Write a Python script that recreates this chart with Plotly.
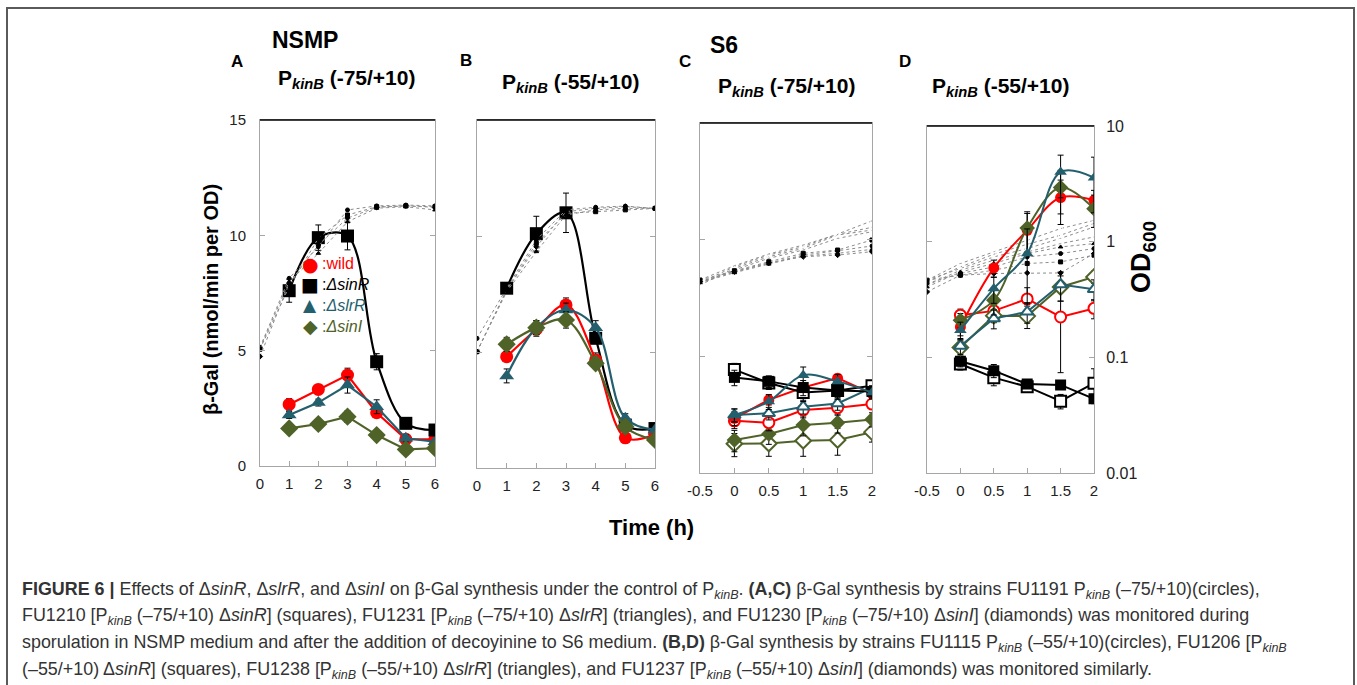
import plotly.graph_objects as go

W, H = 1357, 685

# ---------------- data ----------------
T_AB = [1, 2, 3, 4, 5, 6]
T_AB_OD = [0, 1, 2, 3, 4, 5, 6]
T_CD = [0, 0.5, 1, 1.5, 2]
T_CD_OD = [-0.5, 0, 0.5, 1, 1.5, 2]

# Panel A (NSMP, PkinB -75/+10) beta-Gal
A_wild = [2.67, 3.32, 3.94, 2.31, 1.16, 1.16]
A_wild_err = [0.25, 0.2, 0.3, 0.2, 0.1, 0.1]
A_sinR = [7.6, 9.9, 9.97, 4.52, 1.85, 1.56]
A_sinR_err = [0.5, 0.55, 0.6, 0.35, 0.1, 0.1]
A_slrR = [2.21, 2.75, 3.51, 2.57, 1.2, 1.05]
A_slrR_err = [0.15, 0.15, 0.35, 0.3, 0.15, 0.1]
A_sinI = [1.63, 1.82, 2.14, 1.34, 0.72, 0.77]
A_sinI_err = [0.1, 0.1, 0.25, 0.1, 0.05, 0.05]
# Panel A OD600
A_OD_wild = [0.107, 0.424, 0.797, 1.66, 1.80, 1.83, 1.80]
A_OD_sinR = [0.103, 0.359, 0.942, 1.50, 1.77, 1.80, 1.77]
A_OD_slrR = [0.105, 0.396, 0.698, 1.31, 1.72, 1.77, 1.66]
A_OD_sinI = [0.089, 0.384, 0.825, 1.41, 1.75, 1.80, 1.75]

# Panel B (NSMP, PkinB -55/+10)
B_wild = [4.8, 5.98, 7.03, 4.66, 1.3, 1.45]
B_wild_err = [0.2, 0.3, 0.3, 0.3, 0.1, 0.1]
B_sinR = [7.75, 10.1, 11.0, 5.59, 1.85, 1.7]
B_sinR_err = [0.2, 0.75, 0.85, 0.2, 0.1, 0.1]
B_slrR = [3.97, 6.05, 6.81, 6.05, 2.14, 1.64]
B_slrR_err = [0.3, 0.3, 0.3, 0.3, 0.2, 0.1]
B_sinI = [5.33, 6.05, 6.38, 4.51, 1.78, 1.21]
B_sinI_err = [0.3, 0.3, 0.35, 0.2, 0.1, 0.1]
B_OD_wild = [0.131, 0.354, 0.924, 1.68, 1.77, 1.81, 1.73]
B_OD_sinR = [0.1007, 0.342, 0.865, 1.57, 1.62, 1.68, 1.73]
B_OD_slrR = [0.1007, 0.331, 0.733, 1.52, 1.68, 1.73, 1.73]
B_OD_sinI = [0.1007, 0.342, 0.809, 1.62, 1.73, 1.79, 1.73]

# Panel C (S6, PkinB -75/+10): filled (f) and open (o) symbols
C_wild_f = [0.0294, 0.0423, 0.054, 0.065, 0.048]
C_wild_o = [0.028, 0.027, 0.0347, 0.0363, 0.039]
C_sinR_f = [0.066, 0.061, 0.054, 0.051, 0.050]
C_sinR_o = [0.077, 0.059, 0.049, 0.051, 0.056]
C_slrR_f = [0.0314, 0.041, 0.069, 0.061, 0.049]
C_slrR_o = [0.0314, 0.0325, 0.037, 0.0395, 0.054]
C_sinI_f = [0.0192, 0.0216, 0.0258, 0.027, 0.0288]
C_sinI_o = [0.0178, 0.0179, 0.0189, 0.0192, 0.0224]
C_err_small = [0.004, 0.004, 0.005, 0.005, 0.004]
C_err_sinR = [0.01, 0.007, 0.008, 0.008, 0.006]
C_err_slrR = [0.004, 0.006, 0.012, 0.009, 0.006]
C_OD_wild_o = [0.428, 0.586, 0.738, 0.871, 1.117, 1.45]
C_OD_sinR_o = [0.451, 0.598, 0.754, 0.899, 1.11, 1.276]
C_OD_slrR_o = [0.408, 0.568, 0.714, 0.843, 1.096, 1.21]
C_OD_sinI_o = [0.423, 0.550, 0.692, 0.815, 1.026, 1.17]
C_OD_wild_f = [0.437, 0.531, 0.627, 0.738, 0.804, 0.883]
C_OD_sinR_f = [0.451, 0.542, 0.647, 0.764, 0.815, 0.993]
C_OD_slrR_f = [0.428, 0.521, 0.618, 0.724, 0.764, 0.826]
C_OD_sinI_f = [0.437, 0.531, 0.635, 0.714, 0.738, 0.789]

# Panel D (S6, PkinB -55/+10)
D_wild_f = [0.184, 0.594, 1.256, 2.41, 2.28]
D_wild_o = [0.232, 0.253, 0.321, 0.224, 0.266]
D_sinR_f = [0.093, 0.077, 0.059, 0.058, 0.044]
D_sinR_o = [0.088, 0.067, 0.056, 0.042, 0.060]
D_slrR_f = [0.172, 0.394, 0.791, 4.0, 3.58]
D_slrR_o = [0.126, 0.217, 0.248, 0.427, 0.389]
D_sinI_f = [0.210, 0.313, 1.316, 2.94, 1.93]
D_sinI_o = [0.122, 0.23, 0.228, 0.407, 0.497]
D_err_wild_f = [0.03, 0.1, 0.5, 1.0, 0.5]
D_err_wild_o = [0.03, 0.03, 0.08, 0.15, 0.05]
D_err_sinR_f = [0.01, 0.01, 0.005, 0.005, 0.004]
D_err_sinR_o = [0.01, 0.01, 0.006, 0.006, 0.02]
D_err_slrR_f = [0.03, 0.1, 0.5, 1.6, 1.8]
D_err_slrR_o = [0.02, 0.04, 0.05, 0.12, 0.08]
D_err_sinI_f = [0.03, 0.08, 0.5, 1.2, 0.6]
D_err_sinI_o = [0.02, 0.03, 0.05, 0.1, 0.06]
D_OD_1 = [0.466, 0.649, 0.817, 1.03, 1.30, 1.53]
D_OD_2 = [0.450, 0.607, 0.780, 0.951, 1.14, 1.44]
D_OD_3 = [0.466, 0.588, 0.740, 0.873, 1.07, 1.34]
D_OD_4 = [0.421, 0.568, 0.692, 0.817, 0.964, 1.10]
D_OD_5 = [0.436, 0.532, 0.607, 0.740, 0.791, 0.873]
D_OD_6 = [0.466, 0.514, 0.568, 0.649, 0.670, 0.766]
D_OD_7 = [0.407, 0.548, 0.649, 0.791, 0.902, 0.964]
D_OD_8 = [0.369, 0.514, 0.532, 0.538, 0.538, 0.791]

AB_TICKS = [0, 1, 2, 3, 4, 5, 6]
CD_TICKS = [-0.5, 0, 0.5, 1, 1.5, 2]
CD_TICKTEXT = ["-0.5", "0", "0.5", "1", "1.5", "2"]
BGAL_TICKS = [0, 5, 10, 15]
OD_TICKS = [0.01, 0.1, 1, 10]
OD_TICKTEXT = ["0.01", "0.1", "1", "10"]

# ---------------- style ----------------
RED = "#ff0000"
BLACK = "#000000"
TEAL = "#245f6e"
GREEN = "#4f6228"
FONT = "'Liberation Sans', Arial, sans-serif"
AXC = "#a6a6a6"


def px(x):
    return x / W


def py(y):
    return 1 - y / H


fig = go.Figure()


def od_trace(x, y, xa, ya, symbol):
    fig.add_trace(go.Scatter(
        x=x, y=y, xaxis=xa, yaxis=ya, mode="lines+markers", showlegend=False,
        line=dict(color="#8c8c8c", width=1, dash="dot"),
        marker=dict(symbol=symbol, size=4, color="black" if "open" not in symbol else "white",
                    line=dict(color="black", width=1)),
        hoverinfo="skip"))


def main_trace(x, y, err, xa, ya, color, symbol, size, filled=True, shape="linear", width=2.2):
    fig.add_trace(go.Scatter(
        x=x, y=y, xaxis=xa, yaxis=ya, mode="lines+markers", showlegend=False,
        line=dict(color=color, width=width, shape=shape, smoothing=1.0),
        marker=dict(symbol=symbol, size=size,
                    color=color if filled else "white",
                    line=dict(color=color, width=0 if filled else 2)),
        error_y=dict(type="data", array=err, color="black", thickness=1, width=3),
        hoverinfo="skip"))


# ---- Panel A ----
for ys, sym in [(A_OD_wild, "circle"), (A_OD_sinR, "square"), (A_OD_slrR, "triangle-up"), (A_OD_sinI, "diamond")]:
    od_trace(T_AB_OD, ys, "x", "y5", sym)
main_trace(T_AB, A_wild, A_wild_err, "x", "y", RED, "circle", 13)
main_trace(T_AB, A_slrR, A_slrR_err, "x", "y", TEAL, "triangle-up", 13)
main_trace(T_AB, A_sinI, A_sinI_err, "x", "y", GREEN, "diamond", 14)
main_trace(T_AB, A_sinR, A_sinR_err, "x", "y", BLACK, "square", 13, shape="spline")

# ---- Panel B ----
for ys, sym in [(B_OD_wild, "circle"), (B_OD_sinR, "square"), (B_OD_slrR, "triangle-up"), (B_OD_sinI, "diamond")]:
    od_trace(T_AB_OD, ys, "x2", "y6", sym)
main_trace(T_AB, B_sinR, B_sinR_err, "x2", "y2", BLACK, "square", 13, shape="spline")
main_trace(T_AB, B_wild, B_wild_err, "x2", "y2", RED, "circle", 13, shape="spline")
main_trace(T_AB, B_slrR, B_slrR_err, "x2", "y2", TEAL, "triangle-up", 13, shape="spline")
main_trace(T_AB, B_sinI, B_sinI_err, "x2", "y2", GREEN, "diamond", 14, shape="spline")

# ---- Panel C ----
for ys, sym in [(C_OD_wild_o, "circle-open"), (C_OD_sinR_o, "square-open"), (C_OD_slrR_o, "triangle-up-open"),
                (C_OD_sinI_o, "diamond-open"), (C_OD_wild_f, "circle"), (C_OD_sinR_f, "square"),
                (C_OD_slrR_f, "triangle-up"), (C_OD_sinI_f, "diamond")]:
    od_trace(T_CD_OD, ys, "x3", "y3", sym)
main_trace(T_CD, C_sinI_o, C_err_small, "x3", "y3", GREEN, "diamond", 12, filled=False, width=2)
main_trace(T_CD, C_sinI_f, C_err_small, "x3", "y3", GREEN, "diamond", 12, width=2)
main_trace(T_CD, C_wild_o, C_err_small, "x3", "y3", RED, "circle", 11, filled=False, width=2)
main_trace(T_CD, C_wild_f, C_err_small, "x3", "y3", RED, "circle", 11, width=2)
main_trace(T_CD, C_slrR_o, C_err_small, "x3", "y3", TEAL, "triangle-up", 11, filled=False, width=2)
main_trace(T_CD, C_sinR_o, C_err_sinR, "x3", "y3", BLACK, "square", 11, filled=False, width=2)
main_trace(T_CD, C_sinR_f, C_err_sinR, "x3", "y3", BLACK, "square", 11, width=2)
main_trace(T_CD, C_slrR_f, C_err_slrR, "x3", "y3", TEAL, "triangle-up", 11, shape="spline", width=2)

# ---- Panel D ----
for ys, sym in [(D_OD_1, "circle-open"), (D_OD_2, "square-open"), (D_OD_3, "triangle-up-open"),
                (D_OD_4, "diamond-open"), (D_OD_5, "circle"), (D_OD_6, "square"),
                (D_OD_7, "triangle-up"), (D_OD_8, "diamond")]:
    od_trace(T_CD_OD, ys, "x4", "y4", sym)
main_trace(T_CD, D_sinR_o, D_err_sinR_o, "x4", "y4", BLACK, "square", 11, filled=False, width=2)
main_trace(T_CD, D_sinR_f, D_err_sinR_f, "x4", "y4", BLACK, "square", 11, width=2)
main_trace(T_CD, D_wild_o, D_err_wild_o, "x4", "y4", RED, "circle", 11, filled=False, width=2)
main_trace(T_CD, D_sinI_o, D_err_sinI_o, "x4", "y4", GREEN, "diamond", 12, filled=False, width=2)
main_trace(T_CD, D_slrR_o, D_err_slrR_o, "x4", "y4", TEAL, "triangle-up", 11, filled=False, width=2)
main_trace(T_CD, D_wild_f, D_err_wild_f, "x4", "y4", RED, "circle", 11, shape="spline", width=2)
main_trace(T_CD, D_sinI_f, D_err_sinI_f, "x4", "y4", GREEN, "diamond", 12, shape="spline", width=2)
main_trace(T_CD, D_slrR_f, D_err_slrR_f, "x4", "y4", TEAL, "triangle-up", 11, shape="spline", width=2)

# ---------------- axes ----------------
tickfont = dict(family=FONT, size=15, color="#222")
common_x = dict(showline=True, linecolor=AXC, linewidth=1, mirror=True, ticks="inside",
                ticklen=5, tickcolor=AXC, showgrid=False, zeroline=False, tickfont=tickfont,
                automargin=False, ticklabelstandoff=4)
common_y = dict(showline=True, linecolor=AXC, linewidth=1, mirror="ticks", ticks="inside",
                ticklen=5, tickcolor=AXC, showgrid=False, zeroline=False, tickfont=tickfont,
                automargin=False)

dom = {
    "A": ([px(260), px(435)], [py(466), py(120)]),
    "B": ([px(477), px(655)], [py(468), py(120)]),
    "C": ([px(700), px(872)], [py(473), py(123)]),
    "D": ([px(927), px(1094)], [py(473.3), py(126)]),
}

fig.update_layout(
    template="none",
    xaxis=dict(common_x, domain=dom["A"][0], range=[0, 6], tickvals=AB_TICKS, anchor="y"),
    yaxis=dict(common_y, domain=dom["A"][1], range=[0, 15], tickvals=BGAL_TICKS, anchor="x",
               ticklabelstandoff=10),
    xaxis2=dict(common_x, domain=dom["B"][0], range=[0, 6], tickvals=AB_TICKS, anchor="y2"),
    yaxis2=dict(common_y, domain=dom["B"][1], range=[0, 15], tickvals=[5, 10], showticklabels=False, anchor="x2"),
    xaxis3=dict(common_x, domain=dom["C"][0], range=[-0.5, 2], tickvals=CD_TICKS, ticktext=CD_TICKTEXT, anchor="y3"),
    yaxis3=dict(common_y, domain=dom["C"][1], type="log", range=[-2, 1], tickvals=[0.1, 1],
                showticklabels=False, anchor="x3"),
    xaxis4=dict(common_x, domain=dom["D"][0], range=[-0.5, 2], tickvals=CD_TICKS, ticktext=CD_TICKTEXT, anchor="y4"),
    yaxis4=dict(common_y, domain=dom["D"][1], type="log", range=[-2, 1], tickvals=OD_TICKS,
                ticktext=OD_TICKTEXT, side="right", anchor="x4", ticklabelstandoff=8,
                tickfont=dict(family=FONT, size=16, color="#222")),
    yaxis5=dict(overlaying="y", type="log", range=[-2, 1], visible=False, anchor="x",
                domain=dom["A"][1], automargin=False),
    yaxis6=dict(overlaying="y2", type="log", range=[-2, 1], visible=False, anchor="x2",
                domain=dom["B"][1], automargin=False),
    width=W, height=H, margin=dict(l=0, r=0, t=0, b=0, pad=0, autoexpand=False),
    plot_bgcolor="white", paper_bgcolor="white", showlegend=False,
)

shapes = []
for xr, yr in [("x", "y"), ("x2", "y2"), ("x3", "y3"), ("x4", "y4")]:
    shapes.append(dict(type="line", xref=xr + " domain", yref=yr + " domain", x0=0, x1=1, y0=1, y1=1,
                       line=dict(color="black", width=1.5)))
shapes.append(dict(type="rect", xref="paper", yref="paper", x0=px(7), x1=px(1354), y0=-0.05, y1=py(8),
                   line=dict(color="#5a5a5a", width=2)))
fig.update_layout(shapes=shapes)

ann = []


def text(x, y, s, size, bold=False, color="black", xanchor="center", angle=0, family=FONT):
    ann.append(dict(xref="paper", yref="paper", x=px(x), y=py(y), text=("<b>%s</b>" % s) if bold else s,
                    showarrow=False, xanchor=xanchor, yanchor="middle", textangle=angle,
                    font=dict(family=family, size=size, color=color)))


PK = "P<sub><i>kinB</i></sub>"
text(305, 40, "NSMP", 23, True)
text(724, 45, "S6", 23, True)
text(237, 61, "A", 17, True)
text(466, 60, "B", 17, True)
text(685, 61, "C", 17, True)
text(905, 61, "D", 17, True)
text(346, 79, PK + " (-75/+10)", 21, True)
text(570, 83, PK + " (-55/+10)", 21, True)
text(786, 87, PK + " (-75/+10)", 21, True)
text(1001, 87, PK + " (-55/+10)", 21, True)
text(211, 300, "β-Gal (nmol/min per OD)", 20, True, angle=-90)
text(1143, 257, "OD<sub>600</sub>", 27, True, angle=-90)
text(651, 527, "Time (h)", 22, True)

# legend of panel A (text glyphs + labels)
LEG = [("●", ":wild", RED, 264, 19), ("■", ":<i>ΔsinR</i>", BLACK, 284, 19),
       ("▲", ":<i>ΔslrR</i>", TEAL, 305, 17), ("◆", ":<i>ΔsinI</i>", GREEN, 326, 19)]
for g, lab, col, yy, gs in LEG:
    text(310, yy, g, gs, color=col, family="DejaVu Sans")
    text(320, yy, lab, 16, color=col, xanchor="left")

cap = [
    "<b>FIGURE 6 |</b> Effects of Δ<i>sinR</i>, Δ<i>slrR</i>, and Δ<i>sinI</i> on β-Gal synthesis under the control of "
    + PK + ". <b>(A,C)</b> β-Gal synthesis by strains FU1191 " + PK + " (–75/+10)(circles),",
    "FU1210 [" + PK + " (–75/+10) Δ<i>sinR</i>] (squares), FU1231 [" + PK + " (–75/+10) Δ<i>slrR</i>] (triangles), and FU1230 ["
    + PK + " (–75/+10) Δ<i>sinI</i>] (diamonds) was monitored during",
    "sporulation in NSMP medium and after the addition of decoyinine to S6 medium. <b>(B,D)</b> β-Gal synthesis by strains FU1115 "
    + PK + " (–55/+10)(circles), FU1206 [" + PK,
    "(–55/+10) Δ<i>sinR</i>] (squares), FU1238 [" + PK + " (–55/+10) Δ<i>slrR</i>] (triangles), and FU1237 [" + PK
    + " (–55/+10) Δ<i>sinI</i>] (diamonds) was monitored similarly.",
]
for i, line in enumerate(cap):
    text(20, 590 + i * 26.7, line, 17.9, color="#333", xanchor="left")

fig.update_layout(annotations=ann)
fig.write_html("out.html", config={"displayModeBar": False},
               post_script="document.body.style.margin='0px';document.body.style.overflow='hidden';")
